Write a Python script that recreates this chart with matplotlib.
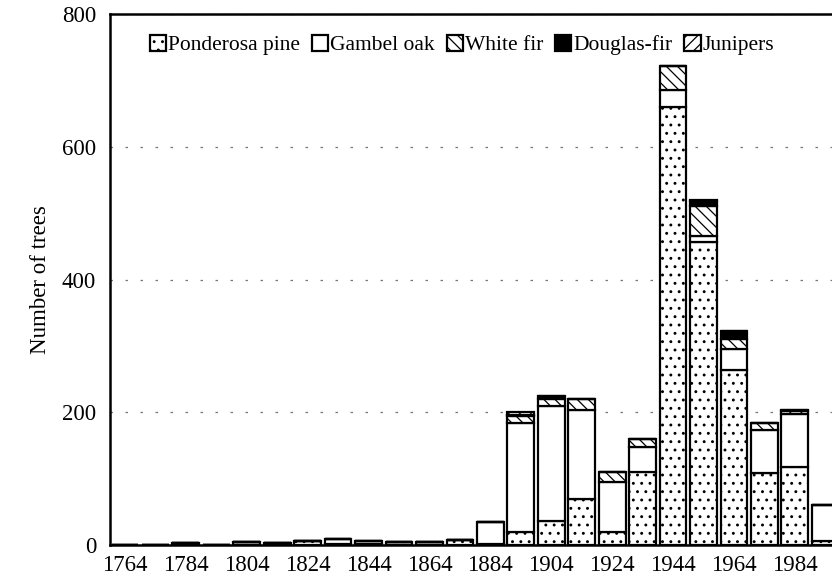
import numpy as np
import matplotlib.pyplot as plt

plt.rcParams['font.family'] = ['Liberation Serif', 'DejaVu Serif']
plt.rcParams['hatch.linewidth'] = 0.9

# decade bins (start year)
years = np.arange(1764, 2004, 10)

# number of trees per species in each bin
pine     = [0, 0, 3, 0, 4, 3.5, 6.5, 2, 2, 4.5, 5, 8, 2, 19, 36, 70, 20, 110, 660, 456, 263, 109, 118, 6]
oak      = [0, 0, 0, 0, 0, 0, 0, 7, 4, 0, 0, 0, 32, 165, 173, 134, 75, 37, 25, 10, 33, 65, 80, 54]
whitefir = [0, 0, 0, 0, 0, 0, 0, 0, 0, 0, 0, 0, 0, 10, 11, 16, 15, 13, 37, 44, 14, 10, 4, 0]
douglas  = [0, 0, 0, 0, 0, 0, 0, 0, 0, 0, 0, 0, 0, 2, 5, 0, 0, 0, 0, 8, 13, 0, 2, 0]
juniper  = [0, 0, 0, 0, 0, 0, 0, 0, 0, 0, 0, 0, 0, 4, 0, 0, 0, 0, 0, 2, 0, 0, 0, 0]

species = ["Ponderosa pine", "Gambel oak", "White fir", "Douglas-fir", "Junipers"]
series = [pine, oak, whitefir, douglas, juniper]
fills = ["white", "white", "white", "black", "white"]
hatches = ["..", None, "\\\\\\", None, "///"]

tick_years = np.arange(1764, 1985, 20)

fig = plt.figure(figsize=(8.32, 5.78), dpi=100)
ax = fig.add_axes([110 / 832, 1 - 545 / 578, 760 / 832, 531 / 578])

bottom = np.zeros(len(years))
handles = []
for name, vals, fc, h in zip(species, series, fills, hatches):
    vals = np.array(vals, dtype=float)
    b = ax.bar(years, vals, width=8.8, bottom=bottom, color=fc, edgecolor="black",
               linewidth=1.6, hatch=h, label=name, zorder=2)
    handles.append(b)
    bottom += vals

ax.set_xlim(1759.1, 1764 + (870 - 125) / 3.045)
ax.set_ylim(0, 800)
ax.set_yticks([0, 200, 400, 600, 800])
ax.set_xticks(tick_years)
ax.tick_params(length=0, labelsize=16.5)
ax.tick_params(axis="y", pad=10)
ax.tick_params(axis="x", pad=7)
ax.yaxis.grid(True, linestyle=(0, (2, 10)), color="#777777", linewidth=0.9)
ax.set_axisbelow(True)
for s in ax.spines.values():
    s.set_linewidth(1.8)

ax.set_ylabel("Number of trees", fontsize=16.5, labelpad=8)

fig.legend(handles=handles, labels=species, loc="center", ncol=5, frameon=False,
           bbox_to_anchor=(462 / 832, 1 - 45 / 578), fontsize=15.5,
           handlelength=0.75, handleheight=0.75, handletextpad=0.1,
           columnspacing=0.55, borderaxespad=0)

plt.savefig("out.png", dpi=100)
